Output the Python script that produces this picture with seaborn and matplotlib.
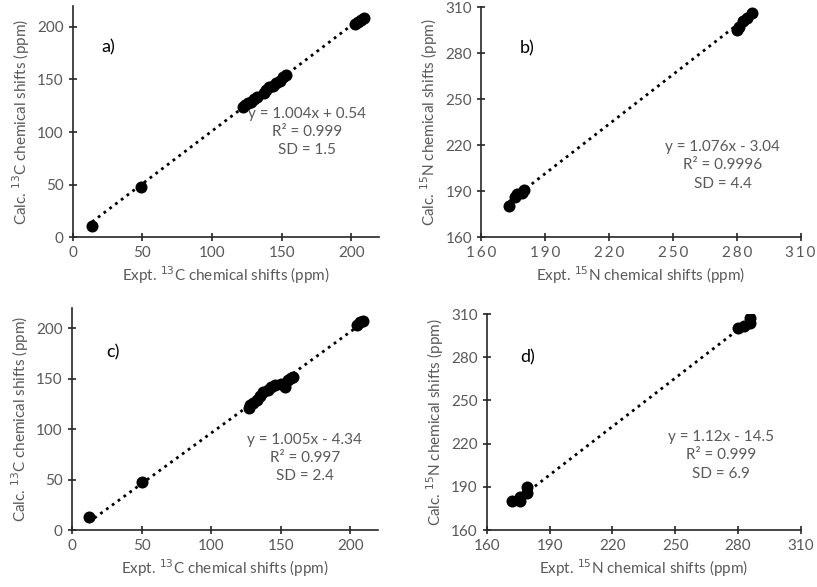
import matplotlib
matplotlib.use('Agg')
import matplotlib.pyplot as plt
import seaborn as sns
import numpy as np
import pandas as pd

sns.set_style('ticks')
plt.rcParams['font.family'] = ['Lato', 'DejaVu Sans']

# panel a) 13C, set 1
a_expt = [14, 49, 122, 124, 126, 128, 130, 132, 137, 139, 141, 144, 146, 149, 151, 153, 203, 205, 207, 209]
a_calc = [11, 48, 124, 126, 128, 129, 131, 133, 137, 140, 143, 144, 147, 149, 152, 154, 203, 205, 207, 208]
# panel b) 15N, set 1
b_expt = [173, 176, 177, 179, 180, 280, 281, 283, 285, 287]
b_calc = [180, 186, 188, 189, 191, 295, 297, 301, 303, 306]
# panel c) 13C, set 2
c_expt = [12, 50, 127, 128, 130, 133, 135, 137, 141, 143, 146, 150, 153, 155, 157, 159, 205, 207, 209]
c_calc = [13, 48, 121, 124, 126, 129, 133, 137, 139, 142, 144, 145, 142, 149, 151, 152, 203, 206, 207]
# panel d) 15N, set 2
d_expt = [172, 176, 176, 179, 179, 280, 283, 286, 286]
d_calc = [180, 180, 183, 186, 190, 300, 302, 304, 307]

fits = {
    'a': (1.004, 0.54, 'y = 1.004x + 0.54', 'R² = 0.999', 'SD = 1.5'),
    'b': (1.076, -3.04, 'y = 1.076x - 3.04', 'R² = 0.9996', 'SD = 4.4'),
    'c': (1.005, -4.34, 'y = 1.005x - 4.34', 'R² = 0.997', 'SD = 2.4'),
    'd': (1.12, -14.5, 'y = 1.12x - 14.5', 'R² = 0.999', 'SD = 6.9'),
}

grey = '#595959'
fig = plt.figure(figsize=(8.17, 5.87), dpi=100)
axa = fig.add_axes([0.089, 0.596, 0.375, 0.394])
axb = fig.add_axes([0.589, 0.596, 0.391, 0.392])
axc = fig.add_axes([0.088, 0.097, 0.375, 0.378])
axd = fig.add_axes([0.596, 0.097, 0.384, 0.368])

panels = [
    (axa, 'a', a_expt, a_calc, 'C', 13),
    (axb, 'b', b_expt, b_calc, 'N', 15),
    (axc, 'c', c_expt, c_calc, 'C', 13),
    (axd, 'd', d_expt, d_calc, 'N', 15),
]
# text positions (axes fraction): panel label, equation block
label_pos = {'a': (0.115, 0.82), 'b': (0.145, 0.82), 'c': (0.135, 0.80), 'd': (0.13, 0.80)}
eq_pos = {'a': (0.765, 0.455), 'b': (0.756, 0.313), 'c': (0.76, 0.325), 'd': (0.745, 0.347)}

for ax, key, xs, ys, nuc, mass in panels:
    df = pd.DataFrame({'x': xs, 'y': ys})
    slope, icpt, eq, r2, sd = fits[key]
    xl = np.array([min(xs), max(xs)])
    line = pd.DataFrame({'x': xl, 'y': slope * xl + icpt})
    sns.lineplot(data=line, x='x', y='y', ax=ax, color='black',
                 linestyle=(0, (1, 1.6)), linewidth=2)
    sns.scatterplot(data=df, x='x', y='y', ax=ax, color='black', s=75,
                    edgecolor='black', linewidth=0, zorder=3)
    if nuc == 'C':
        ax.set_xlim(0, 220)
        ax.set_ylim(0, 220)
        ax.set_xticks([0, 50, 100, 150, 200])
        ax.set_yticks([0, 50, 100, 150, 200])
    else:
        ticks = [160, 190, 220, 250, 280, 310]
        ax.set_xlim(160, 310)
        ax.set_ylim(160, 310)
        ax.set_xticks(ticks)
        ax.set_yticks(ticks)
        if key == 'b':
            # panel b has letter-spaced tick labels
            ax.set_xticklabels(['\u2009'.join(str(t)) for t in ticks])
    sns.despine(ax=ax)
    for sp in ['left', 'bottom']:
        ax.spines[sp].set_color('#262626')
        ax.spines[sp].set_linewidth(1.2)
    ax.tick_params(direction='inout', length=6, width=1.2, color='#262626',
                   labelcolor=grey, labelsize=11)
    ax.set_xlabel('Expt. $^{%d}$%s chemical shifts (ppm)' % (mass, nuc), color=grey, fontsize=11, labelpad=3)
    ax.set_ylabel('Calc. $^{%d}$%s chemical shifts (ppm)' % (mass, nuc), color=grey, fontsize=11, labelpad=4)
    ax.text(*label_pos[key], key + ')', transform=ax.transAxes, fontsize=13, color='black',
            ha='center', va='center')
    ax.text(*eq_pos[key], eq + '\n' + r2 + '\n' + sd, transform=ax.transAxes, fontsize=11,
            color=grey, ha='center', va='center', linespacing=1.4)

fig.savefig('out.png', dpi=100)
